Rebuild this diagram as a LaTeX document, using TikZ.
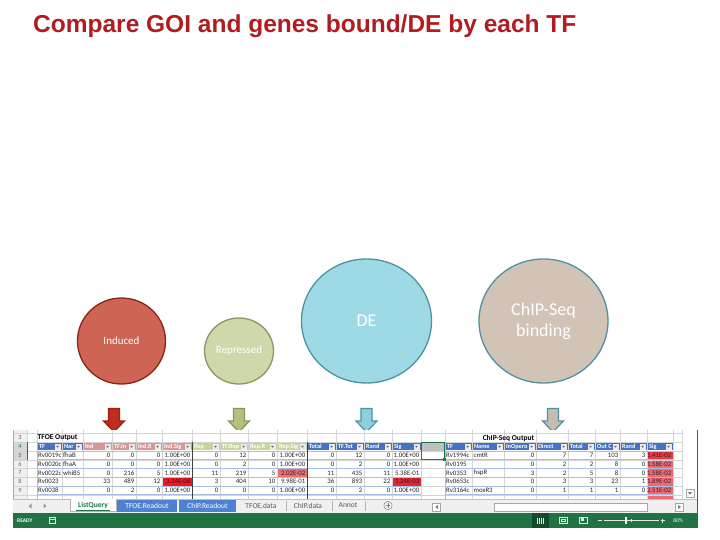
\documentclass[tikz,border=0pt]{standalone}
\usepackage{fontspec}
\setmainfont{Carlito}
\newfontfamily\titlefont{Liberation Sans}
\usetikzlibrary{shapes.geometric}
\definecolor{titlered}{RGB}{176,28,32}
\definecolor{indfill}{RGB}{206,101,84}
\definecolor{inddraw}{RGB}{140,35,25}
\definecolor{repfill}{RGB}{206,216,170}
\definecolor{repdraw}{RGB}{140,150,100}
\definecolor{defill}{RGB}{158,218,230}
\definecolor{tealdraw}{RGB}{78,145,160}
\definecolor{chipfill}{RGB}{210,195,183}
\definecolor{indarrow}{RGB}{192,45,28}
\definecolor{indarrowd}{RGB}{150,35,20}
\definecolor{reparrow}{RGB}{178,192,128}
\definecolor{reparrowd}{RGB}{135,150,90}
\definecolor{dearrow}{RGB}{140,208,222}
\definecolor{chiparrow}{RGB}{200,188,176}
\definecolor{xlgreen}{RGB}{33,115,70}
\definecolor{hdblue}{RGB}{68,114,196}
\definecolor{hdred}{RGB}{218,150,148}
\definecolor{hdgreen}{RGB}{196,215,155}
\definecolor{tabblue}{RGB}{79,129,209}
\definecolor{gridgray}{RGB}{212,212,212}
\definecolor{rowline}{RGB}{170,190,228}
\definecolor{sigred}{RGB}{245,20,30}
\definecolor{sigred2}{RGB}{232,35,50}
\definecolor{sigpink}{RGB}{240,110,110}
\definecolor{chipred}{RGB}{232,58,70}
\definecolor{chippink}{RGB}{240,105,115}
\begin{document}
\begin{tikzpicture}[x=1pt,y=-1pt,line join=miter,
  bubble/.style={ellipse,line width=1.3pt,text=white,inner sep=0pt},
  blockarr/.style={line width=1.2pt},
  cell/.style={inner sep=0pt,font=\fontsize{6.8}{7}\selectfont,text=black!85},
  hcell/.style={inner sep=0pt,font=\fontsize{6.3}{7}\selectfont\bfseries,text=white},
  rownum/.style={inner sep=0pt,font=\fontsize{6.3}{7}\selectfont,text=black!60},
  tabtxt/.style={inner sep=0pt,font=\fontsize{7.5}{8}\selectfont,text=black!65},
  bartxt/.style={inner sep=0pt,font=\fontsize{5.5}{6}\selectfont\bfseries,text=white}]
\useasboundingbox (0,0) rectangle (720,540);
\fill[white] (0,0) rectangle (720,540);
\node[anchor=base west,inner sep=0pt,text=titlered,font=\titlefont\fontsize{24.5}{28}\selectfont\bfseries] (title) at (33,32.5) {Compare GOI and genes bound/DE by each TF};
\node[bubble,fill=indfill,draw=inddraw,minimum width=88pt,minimum height=86pt,font=\fontsize{11}{13}\selectfont] (induced) at (121.5,341) {Induced};
\node[bubble,fill=repfill,draw=repdraw,minimum width=69pt,minimum height=66pt,font=\fontsize{11}{13}\selectfont] (repressed) at (239,351) {Repressed};
\node[bubble,fill=defill,draw=tealdraw,minimum width=130pt,minimum height=124pt,font=\fontsize{18}{21}\selectfont] (de) at (366.5,321) {DE};
\node[bubble,fill=chipfill,draw=tealdraw,minimum width=129pt,minimum height=124pt,font=\fontsize{18}{21}\selectfont,align=center] (chip) at (543.5,321) {ChIP-Seq\\binding};
\foreach \ax/\af/\ad in {114/indarrow/indarrowd,239/reparrow/reparrowd,366.5/dearrow/tealdraw,553/chiparrow/tealdraw}
  \filldraw[blockarr,fill=\af,draw=\ad] (\ax-5.5,408.5) -- (\ax+5.5,408.5) -- (\ax+5.5,421) -- (\ax+10.5,421) -- (\ax,432) -- (\ax-10.5,421) -- (\ax-5.5,421) -- cycle;
\fill[white] (13,430) rectangle (697,499);
\fill[black!6] (13,430) rectangle (27,499);
\fill[black!16] (13,442.25) rectangle (27,459.75);
\fill[sigred] (162.5,477.5) rectangle (191.5,485.8);
\fill[sigpink] (277.5,468.8) rectangle (306.5,477);
\fill[sigred2] (392.5,477.5) rectangle (420.5,485.8);
\fill[chipred] (647.5,451.2) rectangle (672.5,459.6);
\fill[chippink] (647.5,459.75) rectangle (672.5,499);
\foreach \hy in {433.5,442.25,451,459.75,468.5,477.25,486,494.75}
  \draw[gridgray,line width=.5pt] (13,\hy) -- (682,\hy);
\foreach \vx in {27,37,62,83,112,136,162,192,220,248,277,307,336,364,392,421,445,472,504,536,568,595,620,647,673,682}
  \draw[gridgray,line width=.5pt] (\vx,430) -- (\vx,499);
\foreach \hy in {451,459.75,468.5,477.25,486,494.75}
  \draw[rowline,line width=.8pt] (37,\hy) -- (421,\hy) (445,\hy) -- (673,\hy);
\draw[rowline,line width=.8pt] (37,442.25) -- (37,499) (445,442.25) -- (445,499);
\draw[black!75,line width=.8pt] (192,442.25) -- (192,499) (307,442.25) -- (307,499);
\draw[black!35,line width=.5pt] (13,430) -- (13,499);
\draw[xlgreen,line width=.8pt] (27,442.25) -- (27,459.75);
\foreach \xa/\xb/\hc/\hname [count=\k] in {37/62/hdblue/TF,62/83/hdblue/Nar,83/112/hdred/Ind,112/136/hdred/TF.In,136/162/hdred/Ind.R,162/192/hdred/Ind.Sig,192/220/hdgreen/Rep,220/248/hdgreen/TF.Rep,248/277/hdgreen/Rep.R,277/307/hdgreen/Rep.Sig,307/336/hdblue/Total,336/364/hdblue/TF.Tot,364/392/hdblue/Rand,392/421/hdblue/Sig,445/472/hdblue/TF,472/504/hdblue/Name,504/536/hdblue/InOpero,536/568/hdblue/Direct,568/595/hdblue/Total,595/620/hdblue/Out C,620/647/hdblue/Rand,647/673/hdblue/Sig}
{
  \fill[\hc] (\xa+.5,443) rectangle (\xb-.5,450.4);
  \node[hcell,anchor=west] (h\k) at (\xa+1.8,446.8) {\hname};
  \fill[black!8] (\xb-7.5,443.6) rectangle (\xb-1.5,449.8);
  \fill[black!60] (\xb-6,445.8) -- (\xb-3,445.8) -- (\xb-4.5,447.6) -- cycle;
}
\fill[black!25] (421.5,443) rectangle (444.5,450.6);
\draw[xlgreen,line width=1.1pt] (421.5,442.6) rectangle (444.5,459.5);
\fill[xlgreen] (443,458) rectangle (446,461);
\node[inner sep=0pt,anchor=west,font=\fontsize{7.5}{8}\selectfont\bfseries] (tfoeout) at (37.5,438) {TFOE Output};
\node[inner sep=0pt,font=\fontsize{7.5}{8}\selectfont\bfseries] (chipout) at (508.5,438) {ChIP-Seq Output};
\foreach \rn/\ry in {3/437.9,6/464.1,7/472.9,8/481.6,9/490.4}
  \node[rownum] (rn\rn) at (20,\ry) {\rn};
\foreach \rn/\ry in {4/446.6,5/455.4}
  \node[rownum,text=xlgreen] (rn\rn) at (20,\ry) {\rn};
\foreach \ry/\tf/\nm/\va/\vb/\vc/\vd/\ve/\vf/\vg/\vh/\vi/\vj/\vk/\vl [count=\k] in {
  455.4/Rv0019c/fhaB/0/0/0/1.00E+00/0/12/0/1.00E+00/0/12/0/1.00E+00,
  464.1/Rv0020c/fhaA/0/0/0/1.00E+00/0/2/0/1.00E+00/0/2/0/1.00E+00,
  472.9/Rv0022c/whiB5/0/216/5/1.00E+00/11/219/5/2.02E-02/11/435/11/5.38E-01,
  481.6/Rv0023/{}/33/489/12/3.34E-08/3/404/10/9.98E-01/36/893/22/1.24E-03,
  490.4/Rv0038/{}/0/2/0/1.00E+00/0/0/0/1.00E+00/0/2/0/1.00E+00}
{
  \node[cell,anchor=west] (tf\k) at (38,\ry) {\tf};
  \node[cell,anchor=west] (nm\k) at (63,\ry) {\nm};
  \foreach \xr/\cv in {112/\va,136/\vb,162/\vc,192/\vd,220/\ve,248/\vf,277/\vg,307/\vh,336/\vi,364/\vj,392/\vk,421/\vl}
    \node[cell,anchor=east] (v\k-\xr) at (\xr-1.5,\ry) {\cv};
}
\foreach \ry/\tf/\nm/\va/\vb/\vc/\vd/\ve/\vf [count=\k] in {
  455.4/Rv1994c/cmtR/0/7/7/103/3/1.41E-02,
  464.1/Rv0195/{}/0/2/2/8/0/1.58E-02,
  472.9/Rv0353/hspR/3/2/5/8/0/1.58E-02,
  481.6/Rv0653c/{}/0/3/3/23/1/1.89E-02,
  490.4/Rv3164c/moxR3/0/1/1/1/0/2.51E-02}
{
  \node[cell,anchor=west] (ctf\k) at (446,\ry) {\tf};
  \node[cell,anchor=west] (cnm\k) at (473.5,\ry) {\nm};
  \foreach \xr/\cv in {536/\va,568/\vb,595/\vc,620/\vd,647/\ve,673/\vf}
    \node[cell,anchor=east] (c\k-\xr) at (\xr-1.5,\ry) {\cv};
}
\draw[black!35,line width=.4pt,fill=white] (686,489) rectangle (694,497);
\fill[black!55] (688,492) -- (692,492) -- (690,494.5) -- cycle;
\fill[black!6] (13,499) rectangle (697,513);
\draw[black!25,line width=.5pt] (13,499) -- (697,499);
\fill[black!40] (31.5,503.5) -- (31.5,508.5) -- (28.5,506) -- cycle;
\fill[black!40] (43.5,503.5) -- (43.5,508.5) -- (46.5,506) -- cycle;
\fill[white] (70,499) rectangle (116,511.5);
\draw[black!30,line width=.4pt] (70,499) -- (70,511.5) -- (116,511.5) -- (116,499);
\node[inner sep=0pt,text=xlgreen,font=\fontsize{7.5}{8}\selectfont\bfseries] (tablist) at (93,505.3) {ListQuery};
\draw[xlgreen,line width=.8pt] (76,510) -- (110,510);
\fill[tabblue] (117,499.5) rectangle (177,511.5);
\node[tabtxt,text=white] (tabtfoer) at (147,505.5) {TFOE.Readout};
\fill[tabblue] (179,499.5) rectangle (236,511.5);
\node[tabtxt,text=white] (tabchipr) at (207.5,505.5) {ChIP.Readout};
\node[tabtxt] (tabtfoed) at (261,505.5) {TFOE.data};
\node[tabtxt] (tabchipd) at (308,505.5) {ChIP.data};
\node[tabtxt] (tabannot) at (348,505.5) {Annot};
\foreach \sx in {286,332,365}
  \draw[black!30,line width=.5pt] (\sx,501) -- (\sx,511);
\draw[black!50,line width=.5pt] (388,505.5) circle (4.2);
\draw[black!50,line width=.5pt] (385.8,505.5) -- (390.2,505.5) (388,503.3) -- (388,507.7);
\draw[black!35,line width=.4pt,fill=white] (432.5,503) rectangle (440.5,511);
\fill[black!50] (438,505) -- (438,509) -- (435,507) -- cycle;
\draw[black!35,line width=.4pt,fill=white] (494,503.5) rectangle (647,511.5);
\draw[black!35,line width=.4pt,fill=white] (675,503) rectangle (683,511);
\fill[black!50] (678,505) -- (678,509) -- (681,507) -- cycle;
\fill[xlgreen] (13,513) rectangle (697,528);
\node[bartxt,anchor=west] (ready) at (17,520.5) {READY};
\draw[white!85!xlgreen,line width=.6pt] (49.5,517.5) rectangle (55,523.5) (49.5,519.5) -- (55,519.5);
\fill[xlgreen!65!black] (532,513) rectangle (549,528);
\foreach \bx in {537.5,539.5,541.5,543.5}
  \draw[white!85!xlgreen,line width=.5pt] (\bx,517.5) -- (\bx,523.5);
\draw[white!85!xlgreen,line width=.5pt] (559,517.5) rectangle (567,523.5) (561,519.5) rectangle (565,521.5);
\draw[white!85!xlgreen,line width=.5pt] (579,517.5) rectangle (587,523.5);
\fill[white!85!xlgreen] (580.5,518) rectangle (584,520.5);
\draw[white!85!xlgreen,line width=.7pt] (597.5,520.5) -- (601.5,520.5) (660.5,520.5) -- (664.5,520.5) (662.5,518.5) -- (662.5,522.5);
\draw[white!85!xlgreen,line width=.4pt] (604,520.5) -- (659,520.5) (631,519) -- (631,522);
\fill[white] (624.5,517) rectangle (626.5,524);
\node[bartxt,font=\fontsize{5.5}{6}\selectfont] (zoompct) at (678,520.5) {80\%};
\draw[xlgreen,line width=1pt] (697,430) -- (697,528);
\end{tikzpicture}
\end{document}
